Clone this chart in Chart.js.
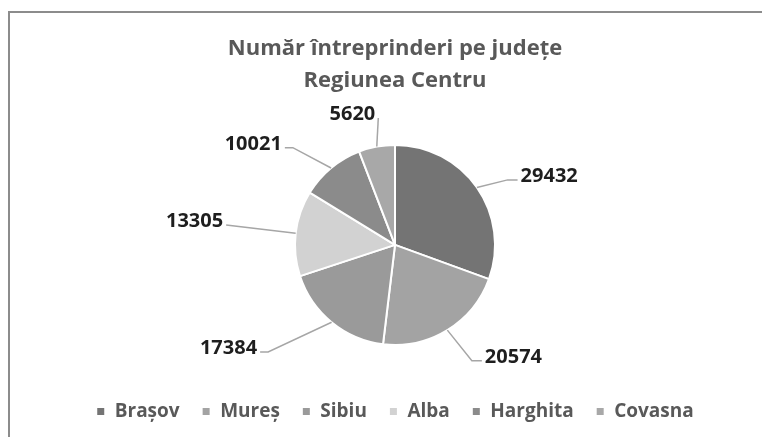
<!DOCTYPE html>
<html>
<head>
<meta charset="utf-8">
<script src="https://cdn.jsdelivr.net/npm/chart.js@4.4.0/dist/chart.umd.min.js"></script>
<style>
  html, body { margin: 0; padding: 0; background: #fff; overflow: hidden; }
  #frame { position: absolute; left: 8px; top: 11px; width: 800px; height: 500px;
           border-left: 2px solid #8c8c8c; border-top: 2px solid #8c8c8c; }
  #wrap { position: absolute; left: 0; top: 0; width: 762px; height: 445px; }
</style>
</head>
<body>
<div id="frame"></div>
<div id="wrap"><canvas id="chart"></canvas></div>
<script>
const judete = ['Brașov', 'Mureș', 'Sibiu', 'Alba', 'Harghita', 'Covasna'];
const intreprinderi = [29432, 20574, 17384, 13305, 10021, 5620];
const nuante = ['#747474', '#a3a3a3', '#9a9a9a', '#d2d2d2', '#8b8b8b', '#a8a8a8'];
const titlu = ['Număr întreprinderi pe județe', 'Regiunea Centru'];

// etichete exterioare: distanta (x raza), rotire fata de mijlocul feliei (grade), coada orizontala (px)
const etichetaDist = [1.30, 1.39, 1.66, 1.70, 1.41, 1.28];
const etichetaRot = [5, -2, 10.5, 0, -6.7, 3];
const etichetaCoada = [10, 10, 8, 0, 8, 0];

const gri = '#595959';
const font = '"Open Sans", "DejaVu Sans", sans-serif';

// Valori cu linii de legatura
const eticheteExterne = {
  id: 'eticheteExterne',
  afterDatasetsDraw(chart) {
    const ctx = chart.ctx;
    const meta = chart.getDatasetMeta(0);
    ctx.save();
    ctx.font = 'bold 20px ' + font;
    ctx.lineWidth = 1.5;
    ctx.strokeStyle = '#a6a6a6';
    ctx.fillStyle = '#1e1e1e';
    ctx.textBaseline = 'alphabetic';
    meta.data.forEach((arc, i) => {
      const p = arc.getProps(['x', 'y', 'startAngle', 'endAngle', 'outerRadius'], true);
      const mid = (p.startAngle + p.endAngle) / 2;
      const a = mid + etichetaRot[i] * Math.PI / 180;
      const x0 = p.x + Math.cos(mid) * p.outerRadius;
      const y0 = p.y + Math.sin(mid) * p.outerRadius;
      const d = p.outerRadius * etichetaDist[i];
      const x1 = p.x + Math.cos(a) * d;
      const y1 = p.y + Math.sin(a) * d;
      const dir = Math.cos(a) >= 0 ? 1 : -1;
      const x2 = x1 + dir * etichetaCoada[i];

      ctx.beginPath();
      ctx.moveTo(x0, y0);
      ctx.lineTo(x1, y1);
      ctx.lineTo(x2, y1);
      ctx.stroke();

      ctx.textAlign = dir > 0 ? 'left' : 'right';
      ctx.fillText(String(intreprinderi[i]), x2 + dir * 3, y1 + 2);
    });
    ctx.restore();
  }
};

new Chart(document.getElementById('chart'), {
  type: 'pie',
  data: {
    labels: judete,
    datasets: [{
      data: intreprinderi,
      backgroundColor: nuante,
      borderColor: '#ffffff',
      borderWidth: 2,
      radius: 100
    }]
  },
  options: {
    responsive: true,
    maintainAspectRatio: false,
    animation: false,
    layout: { padding: { left: 28, right: 0, top: 0, bottom: 14 } },
    plugins: {
      title: {
        display: true,
        text: titlu,
        color: gri,
        font: { family: font, size: 22, weight: 'bold', lineHeight: 1.45 },
        padding: { top: 33, bottom: 13 }
      },
      legend: {
        position: 'bottom',
        labels: {
          color: gri,
          font: { family: font, size: 19, weight: 'bold' },
          usePointStyle: true,
          pointStyle: 'rect',
          boxWidth: 9,
          boxHeight: 9,
          padding: 22
        }
      },
      tooltip: { enabled: false }
    }
  },
  plugins: [eticheteExterne]
});
</script>
</body>
</html>
